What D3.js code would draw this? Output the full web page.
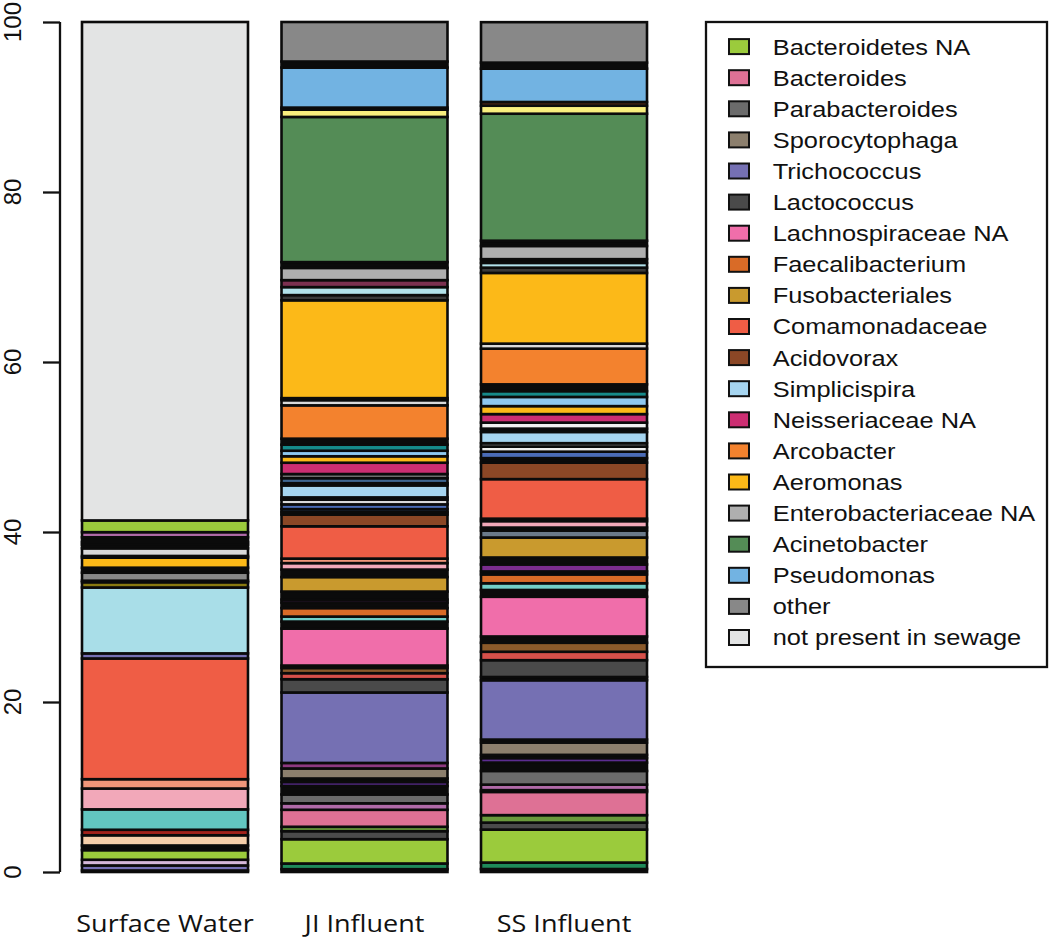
<!DOCTYPE html>
<html>
<head>
<meta charset="utf-8">
<script src="https://cdn.jsdelivr.net/npm/d3@7"></script>
<style>
html,body{margin:0;padding:0;background:#fff;}
svg{display:block;}
</style>
</head>
<body>
<svg id="chart" width="1050" height="938"></svg>
<script>
// ---------- DATA ----------
const samples = ["Surface Water", "JI Influent", "SS Influent"];
const yTicks = [0, 20, 40, 60, 80, 100];

const legendTaxa = ["Bacteroidetes NA","Bacteroides","Parabacteroides","Sporocytophaga","Trichococcus",
  "Lactococcus","Lachnospiraceae NA","Faecalibacterium","Fusobacteriales","Comamonadaceae","Acidovorax",
  "Simplicispira","Neisseriaceae NA","Arcobacter","Aeromonas","Enterobacteriaceae NA","Acinetobacter",
  "Pseudomonas","other","not present in sewage"];

// segments bottom -> top (taxon, percent)
const surfaceWaterTaxa = ["rare","Trichococcus","taxon AA","Bacteroidetes NA","rare","taxon AB","taxon AC","taxon AD",
  "taxon J","taxon K","Comamonadaceae","Trichococcus","taxon AE","taxon AF","rare","other","rare","Aeromonas","rare",
  "taxon N","rare","taxon P","rare","taxon C","Bacteroidetes NA","not present in sewage"];
const surfaceWaterValues = [0.18,0.59,0.67,1.13,0.55,1.2,0.65,2.4,2.45,1.1,14.2,0.6,7.75,0.62,0.18,0.94,0.59,1.18,0.2,
  0.9,0.44,0.3,0.56,0.6,1.38,58.64];

const jiTaxa = ["rare","taxon A","Bacteroidetes NA","Lactococcus","taxon B","Bacteroides","taxon C","Parabacteroides",
  "rare","taxon D","rare","Sporocytophaga","taxon E","Trichococcus","Lactococcus","taxon F","taxon G","rare",
  "Lachnospiraceae NA","rare","taxon H","Faecalibacterium","rare","taxon I","rare","Fusobacteriales","rare","taxon J",
  "taxon K","Comamonadaceae","Acidovorax","rare","taxon L","taxon M","taxon N","rare","Simplicispira","rare","taxon O",
  "taxon P","Neisseriaceae NA","Aeromonas","taxon Q","taxon R","rare","Arcobacter","taxon N","rare","Aeromonas",
  "taxon S","taxon T","taxon U","Enterobacteriaceae NA","rare","Acinetobacter","taxon V","rare","Pseudomonas","rare","other"];
const jiValues = [0.33,0.67,2.86,0.94,0.52,2.0,0.76,1.04,1.0,0.47,0.41,1.18,0.65,8.29,1.56,0.71,0.61,0.29,4.35,0.82,
  0.59,1.0,0.65,0.35,0.94,1.71,0.88,0.76,0.53,3.8,1.38,0.29,0.35,0.56,0.55,0.27,1.41,0.26,0.59,0.49,1.33,0.76,0.65,
  0.71,0.71,3.92,0.61,0.24,11.51,0.61,0.94,0.82,1.44,0.68,17.08,0.86,0.24,4.71,0.71,4.65];

const ssTaxa = ["rare","taxon A","Bacteroidetes NA","Lactococcus","taxon B","Bacteroides","rare","taxon C",
  "Parabacteroides","rare","taxon D","rare","Sporocytophaga","rare","Trichococcus","rare","Lactococcus","taxon F",
  "taxon G","rare","Lachnospiraceae NA","rare","taxon H","Faecalibacterium","rare","taxon Y","rare","Fusobacteriales",
  "taxon X","rare","taxon J","rare","Comamonadaceae","Acidovorax","rare","taxon M","taxon W","taxon P","Simplicispira",
  "rare","taxon W","Neisseriaceae NA","Aeromonas","taxon Q","taxon R","rare","Arcobacter","taxon N","Aeromonas",
  "taxon S","taxon T","rare","Enterobacteriaceae NA","rare","Acinetobacter","taxon V","taxon Z","Pseudomonas","rare","other"];
const ssValues = [0.35,0.76,3.88,0.82,0.88,2.73,0.21,0.65,1.61,0.98,0.53,0.38,1.45,0.35,6.98,0.38,1.98,0.99,1.06,0.74,
  4.67,0.8,0.79,1.04,0.35,0.82,0.82,2.35,0.82,0.35,0.76,0.29,4.65,1.94,0.53,0.76,0.59,0.41,1.32,0.39,0.71,1.0,0.94,
  1.08,0.68,0.8,4.2,0.59,8.32,0.62,0.56,0.44,1.55,0.62,14.94,0.94,0.44,3.92,0.71,4.76];

// ---------- STYLE ----------
const colors = {
  "Bacteroidetes NA":"#9bcb3c","Bacteroides":"#de7195","Parabacteroides":"#6b6b6b","Sporocytophaga":"#8c7f6d",
  "Trichococcus":"#7570b3","Lactococcus":"#4a4a4a","Lachnospiraceae NA":"#f06eaa","Faecalibacterium":"#d96b27",
  "Fusobacteriales":"#c99a2e","Comamonadaceae":"#ef5d45","Acidovorax":"#8b4726","Simplicispira":"#a6d5f0",
  "Neisseriaceae NA":"#cc2e72","Arcobacter":"#f3822e","Aeromonas":"#fcb918","Enterobacteriaceae NA":"#afafaf",
  "Acinetobacter":"#548c56","Pseudomonas":"#72b3e2","other":"#888888","not present in sewage":"#e3e4e4",
  "rare":"#0b0b0b","taxon A":"#1f8a5a","taxon B":"#6a9a3c","taxon C":"#b06aa8","taxon D":"#5c2d91",
  "taxon E":"#8e3a80","taxon F":"#d6504a","taxon G":"#8b5a2b","taxon H":"#72cfc7","taxon I":"#3a1a45",
  "taxon J":"#f2a8b9","taxon K":"#f0967a","taxon L":"#2f4f7a","taxon M":"#4b6cb7","taxon N":"#d9d9d9",
  "taxon O":"#3f6690","taxon P":"#7a7a7a","taxon Q":"#8ec8ef","taxon R":"#168a8a","taxon S":"#3a3a3a",
  "taxon T":"#b2e2ea","taxon U":"#7b3050","taxon V":"#f9ef7e","taxon W":"#f0f0f0","taxon X":"#6b7a8a",
  "taxon Y":"#7b2d8e","taxon Z":"#5a2a14","taxon AA":"#d5b8d9","taxon AB":"#f6cfab","taxon AC":"#a3231c",
  "taxon AD":"#62c6c0","taxon AE":"#a9dee8","taxon AF":"#8a7a10"
};

const sampleData = [
  {name: samples[0], taxa: surfaceWaterTaxa, values: surfaceWaterValues},
  {name: samples[1], taxa: jiTaxa, values: jiValues},
  {name: samples[2], taxa: ssTaxa, values: ssValues}
];

// ---------- DRAW ----------
const svg = d3.select("#chart");
const y = d3.scaleLinear().domain([0, 100]).range([872, 22]);
const x = d3.scaleBand().domain(samples).range([82, 647]).paddingInner(0.168).paddingOuter(0);

const segs = [];
sampleData.forEach(s => {
  let acc = 0;
  s.values.forEach((v, i) => {
    segs.push({sample: s.name, taxon: s.taxa[i], y0: acc, y1: acc + v});
    acc += v;
  });
});

svg.append("g").selectAll("rect").data(segs).join("rect")
  .attr("x", d => x(d.sample))
  .attr("width", x.bandwidth())
  .attr("y", d => y(d.y1))
  .attr("height", d => y(d.y0) - y(d.y1))
  .attr("fill", d => colors[d.taxon])
  .attr("stroke", "#0b0b0b")
  .attr("stroke-width", 2.6);

// y axis
const axisG = svg.append("g").attr("transform", "translate(60,0)")
  .call(d3.axisLeft(y).tickValues(yTicks).tickSize(17).tickFormat(""));
axisG.select(".domain").attr("d", `M0,${y(0)}V${y(100)}`).attr("stroke", "#111").attr("stroke-width", 2.3);
axisG.selectAll(".tick line").attr("stroke", "#111").attr("stroke-width", 2.3);

svg.append("g").selectAll("text").data(yTicks).join("text")
  .attr("transform", d => `translate(21,${y(d)}) rotate(-90)`)
  .attr("text-anchor", "middle")
  .attr("font-family", "Liberation Sans, Arial, sans-serif")
  .attr("font-size", 24)
  .attr("fill", "#111")
  .text(d => d);

// x labels
svg.append("g").selectAll("text").data(samples).join("text")
  .attr("transform", d => `translate(${x(d) + x.bandwidth() / 2},932) scale(1.15,1)`)
  .attr("text-anchor", "middle")
  .attr("font-family", "Open Sans, sans-serif")
  .attr("font-size", 23.5)
  .attr("fill", "#111")
  .text(d => d);

// legend
const lg = svg.append("g");
lg.append("rect").attr("x", 706).attr("y", 22).attr("width", 341).attr("height", 645)
  .attr("fill", "none").attr("stroke", "#111").attr("stroke-width", 2.3);
const ly = d3.scalePoint().domain(legendTaxa).range([46.6, 637.5]);
const items = lg.selectAll("g.item").data(legendTaxa).join("g").attr("class", "item")
  .attr("transform", d => `translate(0,${ly(d)})`);
items.append("rect").attr("x", 729).attr("y", -7.5).attr("width", 20).attr("height", 15)
  .attr("fill", d => colors[d]).attr("stroke", "#111").attr("stroke-width", 2);
items.append("text")
  .attr("transform", "translate(772.7,0) scale(1.155,1)")
  .attr("dy", "0.36em")
  .attr("font-family", "Liberation Sans, Arial, sans-serif")
  .attr("font-size", 22)
  .attr("fill", "#111")
  .text(d => d);
</script>
</body>
</html>
